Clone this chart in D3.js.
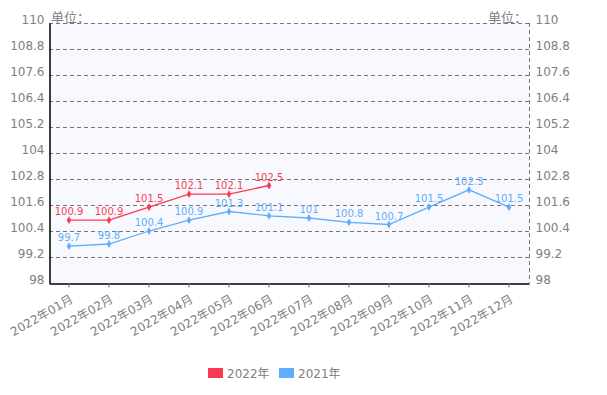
<!DOCTYPE html>
<html>
<head>
<meta charset="utf-8">
<script src="https://cdn.jsdelivr.net/npm/d3@7"></script>
<style>
  body { margin: 0; background: #fff; }
  svg { display: block; }
</style>
</head>
<body>
<div id="chart"></div>
<script>
// datos
var meses = ['2022年01月','2022年02月','2022年03月','2022年04月','2022年05月','2022年06月',
             '2022年07月','2022年08月','2022年09月','2022年10月','2022年11月','2022年12月'];
var serie2022 = [100.9, 100.9, 101.5, 102.1, 102.1, 102.5];
var serie2021 = [99.7, 99.8, 100.4, 100.9, 101.3, 101.1, 101, 100.8, 100.7, 101.5, 102.3, 101.5];
var yTicks = [98, 99.2, 100.4, 101.6, 102.8, 104, 105.2, 106.4, 107.6, 108.8, 110];
var nombres = ['2022年', '2021年'];

var width = 607, height = 395;
var pLeft = 49, pRight = 529, pTop = 23, pBottom = 283;
var rojo = '#fa3a50', azul = '#62adfb', gris = '#808080';
var fuente = '"DejaVu Sans", "Noto Sans CJK SC", sans-serif';

var svg = d3.select('#chart').append('svg')
  .attr('width', width).attr('height', height)
  .style('font-family', fuente);

var x = d3.scaleBand().domain(meses).range([pLeft, pRight]);
var y = d3.scaleLinear().domain([98, 110]).range([pBottom, pTop]);

// fondo
svg.append('rect')
  .attr('x', pLeft).attr('y', pTop)
  .attr('width', pRight - pLeft).attr('height', pBottom - pTop)
  .attr('fill', '#f8f9fe');

// rejilla
svg.selectAll('.grid').data(yTicks.filter(function(d){ return d > 98; }))
  .enter().append('line')
  .attr('class', 'grid')
  .attr('x1', pLeft).attr('x2', pRight)
  .attr('y1', function(d){ return Math.round(y(d)) + 0.5; })
  .attr('y2', function(d){ return Math.round(y(d)) + 0.5; })
  .attr('stroke', '#777').attr('stroke-dasharray', '4,3');

svg.append('line')
  .attr('x1', pRight + 0.5).attr('x2', pRight + 0.5)
  .attr('y1', pTop).attr('y2', pBottom)
  .attr('stroke', '#777').attr('stroke-dasharray', '4,3');

// eje izquierdo
var yAxis = svg.append('g')
  .attr('transform', 'translate(' + (pLeft + 0.5) + ',0)')
  .call(d3.axisLeft(y).tickValues(yTicks).tickSize(0).tickPadding(5)
        .tickFormat(function(d){ return d; }));
yAxis.select('.domain').attr('stroke', '#000').attr('stroke-width', 1.5);
yAxis.selectAll('text').attr('fill', gris).attr('font-size', 12)
  .attr('font-family', fuente).attr('dy', '0');

// eje derecho
var yAxisR = svg.append('g')
  .attr('transform', 'translate(' + (pRight + 0.5) + ',0)')
  .call(d3.axisRight(y).tickValues(yTicks).tickSize(0).tickPadding(6)
        .tickFormat(function(d){ return d; }));
yAxisR.select('.domain').remove();
yAxisR.selectAll('text').attr('fill', gris).attr('font-size', 12)
  .attr('font-family', fuente).attr('dy', '0');

// unidades
svg.append('text').attr('x', pLeft + 2).attr('y', pTop - 1)
  .attr('fill', gris).attr('font-size', 13).text('单位：');
svg.append('text').attr('x', pRight - 2).attr('y', pTop - 1)
  .attr('text-anchor', 'end').attr('fill', gris).attr('font-size', 13).text('单位：');

// eje inferior
var xAxis = svg.append('g')
  .attr('transform', 'translate(0,' + (pBottom + 0.5) + ')')
  .call(d3.axisBottom(x).tickSize(4).tickSizeOuter(0).tickPadding(3));
xAxis.select('.domain').attr('stroke', '#000').attr('stroke-width', 1.5);
xAxis.selectAll('line').attr('stroke', '#777');
xAxis.selectAll('text')
  .attr('fill', gris).attr('font-size', 12).attr('font-family', fuente)
  .attr('text-anchor', 'end')
  .attr('x', 0).attr('y', 0).attr('dy', '0')
  .attr('transform', 'translate(5,18) rotate(-30)');

// series
function cx(d, i){ return x(meses[i]) + x.bandwidth() / 2; }

function dibujarSerie(datos, color){
  var linea = d3.line().x(cx).y(function(d){ return y(d); });
  svg.append('path').datum(datos)
    .attr('d', linea).attr('fill', 'none')
    .attr('stroke', color).attr('stroke-width', 1.3);
  svg.selectAll(null).data(datos).enter().append('path')
    .attr('d', d3.symbol(d3.symbolDiamond, 18))
    .attr('transform', function(d, i){ return 'translate(' + cx(d, i) + ',' + y(d) + ')'; })
    .attr('fill', color);
  svg.selectAll(null).data(datos).enter().append('text')
    .attr('x', cx).attr('y', function(d){ return y(d) - 5; })
    .attr('text-anchor', 'middle').attr('font-size', 10)
    .attr('fill', color).text(function(d){ return d; });
}
dibujarSerie(serie2021, azul);
dibujarSerie(serie2022, rojo);

// leyenda
var leyenda = svg.append('g').attr('transform', 'translate(208,368)');
var items = leyenda.selectAll('g').data(nombres).enter().append('g')
  .attr('transform', function(d, i){ return 'translate(' + (i * 71) + ',0)'; });
items.append('rect').attr('width', 15).attr('height', 10)
  .attr('fill', function(d, i){ return i == 0 ? rojo : azul; });
items.append('text').attr('x', 19).attr('y', 10)
  .attr('fill', gris).attr('font-size', 12).text(function(d){ return d; });
</script>
</body>
</html>
